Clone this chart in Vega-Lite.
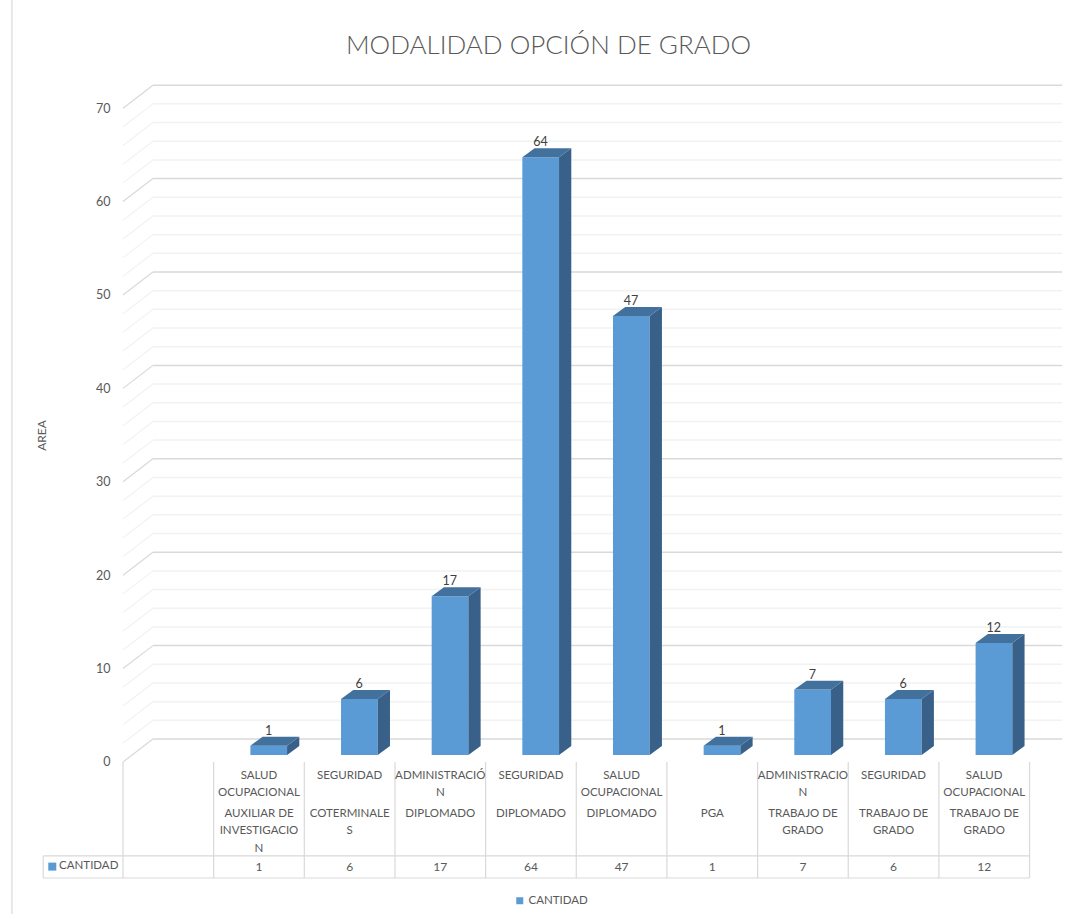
{"$schema":"https://vega.github.io/schema/vega-lite/v6.json","autosize":{"type":"none"},"padding":{"left":123,"top":85,"right":5,"bottom":36},"width":939,"height":793,"background":"white",
"title":{"text":"MODALIDAD OPCIÓN DE GRADO","anchor":"middle","frame":"group","dx":-44,"offset":-60,"font":"Lato","fontSize":26,"fontWeight":300,"color":"#595959"},
"config":{"view":{"stroke":null},"font":"Lato"},
"datasets":{
"bars":[
{"slot":1,"area":"SALUD\nOCUPACIONAL","modalidad":"AUXILIAR DE\nINVESTIGACIO\nN","cantidad":1,"serie":"CANTIDAD"},
{"slot":2,"area":"SEGURIDAD","modalidad":"COTERMINALE\nS","cantidad":6,"serie":"CANTIDAD"},
{"slot":3,"area":"ADMINISTRACIÓ\nN","modalidad":"DIPLOMADO","cantidad":17,"serie":"CANTIDAD"},
{"slot":4,"area":"SEGURIDAD","modalidad":"DIPLOMADO","cantidad":64,"serie":"CANTIDAD"},
{"slot":5,"area":"SALUD\nOCUPACIONAL","modalidad":"DIPLOMADO","cantidad":47,"serie":"CANTIDAD"},
{"slot":6,"area":"","modalidad":"PGA","cantidad":1,"serie":"CANTIDAD"},
{"slot":7,"area":"ADMINISTRACIO\nN","modalidad":"TRABAJO DE\nGRADO","cantidad":7,"serie":"CANTIDAD"},
{"slot":8,"area":"SEGURIDAD","modalidad":"TRABAJO DE\nGRADO","cantidad":6,"serie":"CANTIDAD"},
{"slot":9,"area":"SALUD\nOCUPACIONAL","modalidad":"TRABAJO DE\nGRADO","cantidad":12,"serie":"CANTIDAD"}],
"grid":[{"v":0,"k":"major"},{"v":2,"k":"minor"},{"v":4,"k":"minor"},{"v":6,"k":"minor"},{"v":8,"k":"minor"},{"v":10,"k":"major"},{"v":12,"k":"minor"},{"v":14,"k":"minor"},{"v":16,"k":"minor"},{"v":18,"k":"minor"},{"v":20,"k":"major"},{"v":22,"k":"minor"},{"v":24,"k":"minor"},{"v":26,"k":"minor"},{"v":28,"k":"minor"},{"v":30,"k":"major"},{"v":32,"k":"minor"},{"v":34,"k":"minor"},{"v":36,"k":"minor"},{"v":38,"k":"minor"},{"v":40,"k":"major"},{"v":42,"k":"minor"},{"v":44,"k":"minor"},{"v":46,"k":"minor"},{"v":48,"k":"minor"},{"v":50,"k":"major"},{"v":52,"k":"minor"},{"v":54,"k":"minor"},{"v":56,"k":"minor"},{"v":58,"k":"minor"},{"v":60,"k":"major"},{"v":62,"k":"minor"},{"v":64,"k":"minor"},{"v":66,"k":"minor"},{"v":68,"k":"minor"},{"v":70,"k":"major"}],
"cols":[{"c":0},{"c":1},{"c":2},{"c":3},{"c":4},{"c":5},{"c":6},{"c":7},{"c":8},{"c":9},{"c":10}],
"rows":[{"r":-10.06},{"r":-12.42}]
},
"layer":[
{"data":{"name":"grid"},"transform":[{"calculate":"datum.v+2.46","as":"back"}],"mark":{"type":"rule","strokeWidth":1.5},
"encoding":{"x":{"datum":0.33,"type":"quantitative","scale":{"domain":[0,10.358],"nice":false,"zero":false},"axis":null},"x2":{"datum":10.36},
"y":{"field":"back","type":"quantitative","scale":{"domain":[-12.42,72.48],"nice":false,"zero":false},"axis":{"values":[0,10,20,30,40,50,60,70],"title":"AREA","titleFont":"Lato","titleFontSize":12,"titleFontWeight":"normal","titleColor":"#595959","titleX":-75,"titleY":350,"titleAngle":-90,"domain":false,"ticks":false,"grid":false,"labelPadding":13,"labelFont":"Lato","labelFontSize":12.5,"labelColor":"#595959"}},
"stroke":{"condition":{"test":"datum.k=='major'","value":"#d9d9d9"},"value":"#f2f2f2"}}},
{"data":{"name":"grid"},"transform":[{"calculate":"datum.v+2.46","as":"back"}],"mark":{"type":"rule","strokeWidth":1.2},
"encoding":{"x":{"datum":0,"type":"quantitative"},"x2":{"datum":0.33},"y":{"field":"v","type":"quantitative"},"y2":{"field":"back"},
"stroke":{"condition":{"test":"datum.k=='major'","value":"#d9d9d9"},"value":"#f2f2f2"}}},
{"data":{"name":"cols"},"mark":{"type":"rule","stroke":"#d9d9d9","strokeWidth":1.2},
"encoding":{"x":{"field":"c","type":"quantitative"},"y":{"datum":0,"type":"quantitative"},"y2":{"datum":-12.42}}},
{"data":{"name":"rows"},"mark":{"type":"rule","stroke":"#d9d9d9","strokeWidth":1.2},
"encoding":{"x":{"datum":-0.88,"type":"quantitative"},"x2":{"datum":10},"y":{"field":"r","type":"quantitative"}}},
{"data":{"values":[{"k":"borde"}]},"mark":{"type":"rule","stroke":"#d9d9d9","strokeWidth":1.2},
"encoding":{"x":{"datum":-0.88,"type":"quantitative"},"y":{"datum":-10.06,"type":"quantitative"},"y2":{"datum":-12.42}}},
{"data":{"values":[{"k":"marco"}]},"mark":{"type":"rule","stroke":"#d9d9d9","strokeWidth":1.2},
"encoding":{"x":{"datum":-1.225,"type":"quantitative"},"y":{"datum":81.6,"type":"quantitative"},"y2":{"datum":-16.3}}},
{"data":{"name":"bars"},"transform":[{"calculate":"datum.slot+0.405","as":"x0"},{"calculate":"datum.slot+0.81","as":"x1"}],
"mark":{"type":"bar","yOffset":-7,"y2Offset":-7},
"encoding":{"x":{"field":"x0","type":"quantitative"},"x2":{"field":"x1"},"y":{"field":"cantidad","type":"quantitative"},"y2":{"datum":0},
"color":{"field":"serie","type":"nominal","scale":{"range":["#5b9bd5"]},"legend":{"title":null,"orient":"none","legendX":391,"legendY":810,"symbolType":"square","symbolSize":49,"labelOffset":3,"labelFont":"Lato","labelFontSize":11.5,"labelColor":"#595959","symbolStrokeWidth":0}}}},
{"data":{"name":"bars"},"transform":[{"calculate":"[0,1]","as":"p"},{"flatten":["p"]},{"calculate":"datum.slot+0.81+datum.p*0.135","as":"xs"},{"calculate":"datum.p*0.96","as":"lo"},{"calculate":"datum.cantidad+datum.p*0.96","as":"hi"}],
"mark":{"type":"area","color":"#386088","yOffset":-7,"y2Offset":-7},
"encoding":{"x":{"field":"xs","type":"quantitative"},"y":{"field":"hi","type":"quantitative"},"y2":{"field":"lo"},"detail":{"field":"slot"}}},
{"data":{"name":"bars"},"transform":[{"calculate":"[0,1]","as":"p"},{"flatten":["p"]},{"calculate":"datum.slot+0.405+datum.p*0.135","as":"xa"},{"calculate":"datum.slot+0.81+datum.p*0.135","as":"xb"},{"calculate":"datum.cantidad+datum.p*0.96","as":"hi"}],
"mark":{"type":"area","orient":"horizontal","color":"#41719c","yOffset":-7},
"encoding":{"x":{"field":"xa","type":"quantitative"},"x2":{"field":"xb"},"y":{"field":"hi","type":"quantitative"},"detail":{"field":"slot"}}},
{"data":{"name":"bars"},"transform":[{"calculate":"datum.slot+0.605","as":"xc"}],
"mark":{"type":"text","font":"Lato","fontSize":12.5,"color":"#404040","yOffset":-22,"baseline":"middle"},
"encoding":{"x":{"field":"xc","type":"quantitative"},"y":{"field":"cantidad","type":"quantitative"},"text":{"field":"cantidad"}}},
{"data":{"name":"bars"},"transform":[{"calculate":"datum.slot+0.5","as":"xc"}],
"mark":{"type":"text","font":"Lato","fontSize":11.5,"color":"#595959","baseline":"top","lineBreak":"\n","lineHeight":17.5},
"encoding":{"x":{"field":"xc","type":"quantitative"},"y":{"datum":-0.82,"type":"quantitative"},"text":{"field":"area"}}},
{"data":{"name":"bars"},"transform":[{"calculate":"datum.slot+0.5","as":"xc"}],
"mark":{"type":"text","font":"Lato","fontSize":11.5,"color":"#595959","baseline":"top","lineBreak":"\n","lineHeight":17.5},
"encoding":{"x":{"field":"xc","type":"quantitative"},"y":{"datum":-4.9,"type":"quantitative"},"text":{"field":"modalidad"}}},
{"data":{"name":"bars"},"transform":[{"calculate":"datum.slot+0.5","as":"xc"}],
"mark":{"type":"text","font":"Lato","fontSize":12,"color":"#595959","baseline":"middle"},
"encoding":{"x":{"field":"xc","type":"quantitative"},"y":{"datum":-11.2,"type":"quantitative"},"text":{"field":"cantidad"}}},
{"data":{"values":[{"serie":"CANTIDAD"}]},
"mark":{"type":"text","font":"Lato","fontSize":11.5,"color":"#595959","baseline":"middle","align":"left"},
"encoding":{"x":{"datum":-0.705,"type":"quantitative"},"y":{"datum":-11.15,"type":"quantitative"},"text":{"field":"serie"}}},
{"data":{"values":[{"serie":"CANTIDAD"}]},
"mark":{"type":"point","shape":"square","filled":true,"size":64,"opacity":1,"color":"#5b9bd5"},
"encoding":{"x":{"datum":-0.78,"type":"quantitative"},"y":{"datum":-11.2,"type":"quantitative"}}}
]}
